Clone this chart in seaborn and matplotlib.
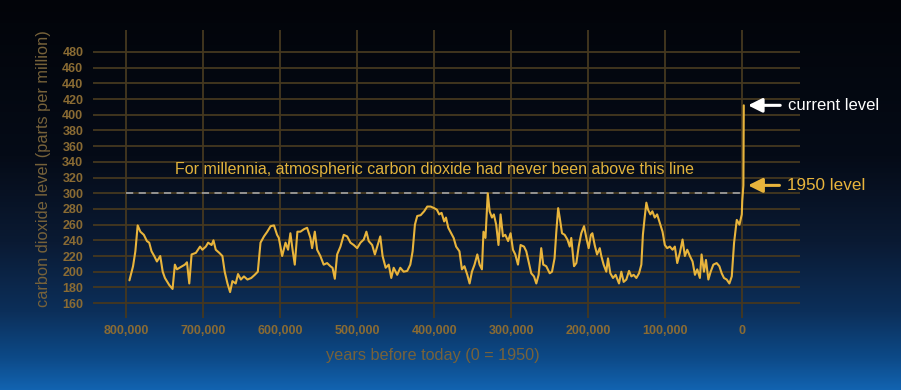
import numpy as np
import pandas as pd
import matplotlib.pyplot as plt
from matplotlib.colors import LinearSegmentedColormap
import seaborn as sns

# thousands of years before 1950 (negative = after 1950), ppm
ages_k = [795.7, 791, 788, 785, 781.5, 777, 773, 770, 767, 763.5, 760, 755.7, 752.5,
          749.6, 744, 739.7, 736.7, 734, 729, 723.7, 721, 718, 715, 709.4, 704, 701,
          696.5, 693.5, 689, 686.6, 683.6, 679, 675, 672, 668.4, 665, 662, 657.7,
          654.7, 651, 647, 642.5, 637.5, 633, 629, 625.5, 621, 616.7, 612.4, 608, 604,
          601.7, 597.4, 593, 589.7, 586.7, 583.6, 581, 577.6, 573.7, 569.3, 565, 560.7,
          558.5, 555, 552, 547.8, 543.5, 539, 534.8, 532, 529, 526, 521.7, 517.4, 513,
          508.7, 504.4, 500, 495.7, 491.4, 488, 485, 480.5, 477, 474, 470, 467, 463,
          459, 455.7, 452.6, 448, 444, 439.7, 435, 431, 428, 425, 422, 417.6, 413, 409,
          404.6, 400, 396.5, 393.5, 390.4, 387, 384.7, 381.7, 378, 374.7, 371.5, 367.2,
          364, 360.7, 357, 354, 351, 347.6, 344, 341, 338, 336, 333.4, 330.4, 328, 325,
          322.5, 319.5, 316.5, 313.8, 310.7, 307.7, 304, 300.8, 297.7, 294.7, 291.2,
          287.8, 283.4, 280.4, 277.4, 274, 270.4, 267.4, 264.4, 261, 258.4, 254.5, 250,
          247, 243.7, 241.4, 239, 237, 234, 230.6, 227, 224, 222, 218.4, 215.4, 212.4,
          209, 205.4, 202.4, 199.4, 196.5, 194.6, 191.6, 188.5, 185, 183, 180, 176.5,
          174.3, 171.3, 167.8, 164.4, 160, 157, 154, 150.5, 147, 144, 141, 137.5, 134,
          131, 129, 126.7, 124.5, 122.3, 119.3, 116.7, 113.6, 110.5, 107, 103.5, 100.5,
          97.4, 94, 90.5, 87.5, 84.4, 81, 77.5, 74.5, 71.4, 68, 64.5, 61.4, 58.4, 55,
          52.8, 49.7, 47.1, 44, 41, 37.5, 33.2, 29.7, 26.7, 23.7, 20.2, 16.7, 13.6,
          10.6, 7.1, 3.6, 0.6, 0, -1.5, -2]
co2_ppm = [189, 207, 226, 259, 251, 247, 239, 237, 226, 220, 213, 220, 200,
           192, 183, 178, 209, 203, 206, 209, 212, 185, 222, 224, 232, 228,
           232, 237, 234, 240, 228, 224, 220, 200, 185, 174, 188, 185,
           197, 190, 194, 190, 192, 196, 200, 237, 245, 251, 258, 259, 247,
           243, 220, 237, 228, 249, 226, 209, 251, 251, 254, 256, 243,
           230, 251, 228, 220, 209, 211, 207, 205, 191, 222, 232, 247, 245,
           237, 234, 230, 237, 241, 251, 239, 234, 222, 232, 245, 220, 205,
           209, 192, 205, 196, 205, 200, 201, 209, 226, 260, 271, 272, 277, 283,
           283, 281, 279, 273, 275, 264, 269, 256, 249, 243, 232, 226,
           203, 207, 196, 185, 200, 209, 222, 209, 203, 251, 243, 300, 277, 269,
           273, 260, 234, 273, 245, 247, 239, 249, 228, 222, 209,
           234, 232, 226, 213, 198, 194, 185, 196, 230, 209, 207, 198,
           200, 217, 251, 281, 269, 249, 247, 241, 232, 243, 207, 211, 232,
           249, 258, 243, 230, 247, 249, 234, 222, 230, 220, 209, 200,
           217, 198, 192, 196, 185, 200, 187, 190, 201, 194, 196, 192, 198,
           209, 247, 269, 288, 279, 273, 277, 269, 273, 262, 251, 234,
           230, 232, 228, 232, 211, 224, 241, 220, 228, 220, 213, 196, 203, 192,
           222, 200, 215, 190, 200, 209, 211, 207, 198, 192, 190, 185, 194,
           237, 266, 260, 273, 290, 310, 412]

y_ticks = list(range(160, 481, 20))
x_ticks_k = [800, 700, 600, 500, 400, 300, 200, 100, 0]
x_tick_labels = ["800,000", "700,000", "600,000", "500,000", "400,000",
                 "300,000", "200,000", "100,000", "0"]

gold = "#e8b43c"
tick_col = "#8a6b33"
label_col = "#77623a"
grid_col = "#45381f"

sns.set_theme(style="dark")
plt.rcParams["font.family"] = ["Liberation Sans", "DejaVu Sans"]

df = pd.DataFrame({"age": np.array(ages_k) * 1000, "co2": co2_ppm})

fig = plt.figure(figsize=(9.01, 3.9), dpi=100)
fig.patch.set_facecolor("#03050a")

# background gradient: black at the top, blue towards the bottom
bg = fig.add_axes([0, 0, 1, 1], zorder=-10)
cmap = LinearSegmentedColormap.from_list(
    "sky", [(0, "#020409"), (0.4, "#050b17"), (0.62, "#0a1a33"),
            (0.8, "#0c2f5a"), (0.92, "#0d4a88"), (1.0, "#1263b0")])
bg.imshow(np.linspace(0, 1, 256).reshape(-1, 1), cmap=cmap, aspect="auto",
          extent=[0, 1, 0, 1])
bg.set_axis_off()

ax = fig.add_axes([93 / 901, 72 / 390, 707 / 901, 288 / 390])
ax.set_facecolor("none")

for y in y_ticks:
    ax.axhline(y, color=grid_col, lw=1.3, zorder=1)
for x in x_ticks_k:
    ax.axvline(x * 1000, color=grid_col, lw=1.3, zorder=1)

ax.hlines(300, 800000, 0, colors="#9a9a9a", linestyles=(0, (4, 3)), lw=1.3, zorder=2)

sns.lineplot(data=df, x="age", y="co2", ax=ax, color=gold, lw=1.5, zorder=3)

ax.set_xlim(843000, -75000)
ax.set_ylim(141, 508)
ax.grid(False)
for s in ax.spines.values():
    s.set_visible(False)

ax.set_yticks(y_ticks)
ax.set_yticklabels([str(v) for v in y_ticks])
ax.set_xticks([v * 1000 for v in x_ticks_k])
ax.set_xticklabels(x_tick_labels)
ax.tick_params(axis="both", length=0, labelsize=9, labelcolor=tick_col)
ax.tick_params(axis="y", pad=7)
ax.tick_params(axis="x", pad=5)
for lab in ax.get_xticklabels() + ax.get_yticklabels():
    lab.set_fontweight("bold")

ax.set_ylabel("carbon dioxide level (parts per million)", color=label_col, fontsize=11.8)
ax.set_xlabel("years before today (0 = 1950)", color=label_col, fontsize=11.7)
ax.yaxis.set_label_coords(-0.059, 0.517)
ax.xaxis.set_label_coords(0.481, -0.104)

ax.text(737000, 330, "For millennia, atmospheric carbon dioxide had never been above this line",
        color="#e2b33c", fontsize=11.5, ha="left", va="center")

ax.annotate("current level", xy=(-7500, 412), xytext=(-59000, 412),
            color="white", fontsize=12, ha="left", va="center", annotation_clip=False,
            arrowprops=dict(arrowstyle="-|>,head_width=0.35,head_length=0.7",
                            color="white", lw=2.2, shrinkA=3, shrinkB=0))
ax.annotate("1950 level", xy=(-7500, 310), xytext=(-58000, 310),
            color=gold, fontsize=12.3, ha="left", va="center", annotation_clip=False,
            arrowprops=dict(arrowstyle="-|>,head_width=0.35,head_length=0.7",
                            color=gold, lw=2.2, shrinkA=3, shrinkB=0))

fig.savefig("out.png", dpi=100, facecolor=fig.get_facecolor())
